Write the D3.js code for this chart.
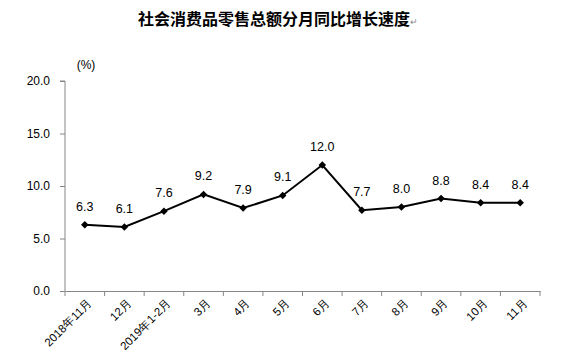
<!DOCTYPE html>
<html><head><meta charset="utf-8">
<script src="https://cdn.jsdelivr.net/npm/d3@7/dist/d3.min.js"></script>
<style>body{margin:0;background:#fff}svg{display:block}</style>
</head><body>
<svg id="c" width="581" height="361"></svg>
<script>
const categories = ["2018年11月","12月","2019年1-2月","3月","4月","5月","6月","7月","8月","9月","10月","11月"];
const values = [6.3,6.1,7.6,9.2,7.9,9.1,12.0,7.7,8.0,8.8,8.4,8.4];
const yTicks = [0,5,10,15,20];
const title = "社会消费品零售总额分月同比增长速度";
const unitLabel = "(%)";

const svg = d3.select("#c");
const m = {left:65, right:41, top:81, bottom:70};
const W = 581, H = 361;
const x = d3.scaleBand().domain(categories).range([m.left, W - m.right]);
const y = d3.scaleLinear().domain([0,20]).range([291, 81]);
const axisColor = "#868686";
const font = "'Liberation Sans', Arial, sans-serif";

// title
const t = svg.append("text").attr("x", 278).attr("y", 25).attr("text-anchor","middle")
  .style("font-family","'Noto Sans CJK SC', sans-serif").style("font-size","16px").style("font-weight","bold")
  .attr("fill","#000");
t.append("tspan").text(title);
t.append("tspan").text("↵").style("font-size","9px").style("font-weight","normal").attr("fill","#888");

svg.append("text").attr("x", 86).attr("y", 69).attr("text-anchor","middle")
  .style("font-family",font).style("font-size","12px").text(unitLabel);

// y axis
const ya = svg.append("g").attr("transform",`translate(${m.left},0)`)
  .call(d3.axisLeft(y).tickValues(yTicks).tickFormat(d3.format(".1f")).tickSize(5).tickPadding(10));
ya.select(".domain").attr("stroke",axisColor).attr("d",`M-5,${y(20)}H0V${y(0)}`);
ya.selectAll(".tick line").attr("stroke",axisColor);
ya.selectAll(".tick text").style("font-family",font).style("font-size","12px").attr("fill","#000");

// x axis
const xa = svg.append("g").attr("transform",`translate(0,${y(0)})`)
  .call(d3.axisBottom(x).tickSize(0).tickFormat(""));
xa.select(".domain").attr("stroke",axisColor);
const edges = categories.map(c => x(c)).concat([x.range()[1]]);
xa.selectAll(".edge").data(edges).enter().append("line")
  .attr("x1",d=>d).attr("x2",d=>d).attr("y1",0).attr("y2",5).attr("stroke",axisColor);
xa.selectAll(".lab").data(categories).enter().append("text")
  .attr("transform",d=>`translate(${x(d)+x.bandwidth()/2+5},10) rotate(-45)`)
  .attr("text-anchor","end").attr("dy","0.35em")
  .style("font-family",font).style("font-size","11.5px").attr("fill","#000").text(d=>d);

// line
const cx = d => x(d) + x.bandwidth()/2;
const line = d3.line().x((d,i)=>cx(categories[i])).y(d=>y(d));
svg.append("path").datum(values).attr("d",line).attr("fill","none").attr("stroke","#000").attr("stroke-width",2);
svg.selectAll(".pt").data(values).enter().append("path")
  .attr("d", d3.symbol().type(d3.symbolDiamond2).size(36))
  .attr("transform",(d,i)=>`translate(${cx(categories[i])},${y(d)})`).attr("fill","#000");
svg.selectAll(".vl").data(values).enter().append("text")
  .attr("x",(d,i)=>cx(categories[i])).attr("y",d=>y(d)-14).attr("text-anchor","middle")
  .style("font-family",font).style("font-size","12.5px").attr("fill","#000").text(d=>d.toFixed(1));
</script>
</body></html>
